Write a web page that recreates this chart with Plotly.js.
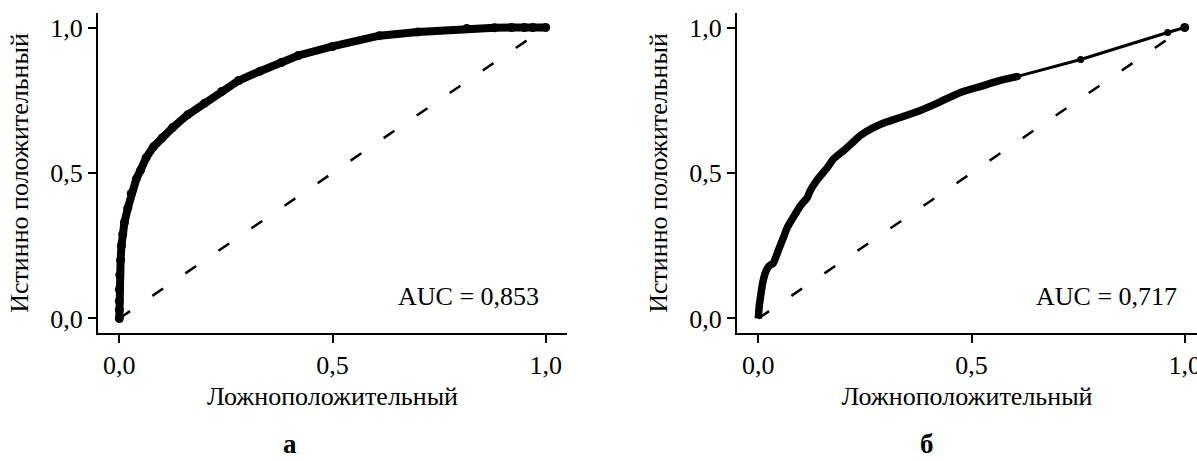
<!DOCTYPE html>
<html>
<head>
<meta charset="utf-8">
<script src="https://cdn.plot.ly/plotly-3.0.1.min.js"></script>
<style>html,body{margin:0;padding:0;background:#fff;}#chart{width:1197px;height:461px;}</style>
</head>
<body>
<div id="chart"></div>
<script>
// ---- data ----
const leftFPR = [0, 0, 0, 0, 0.001, 0.003, 0.005, 0.008, 0.012, 0.02, 0.028, 0.04, 0.05, 0.063, 0.08, 0.1, 0.125, 0.16, 0.2, 0.24, 0.28, 0.33, 0.38, 0.42, 0.5, 0.61, 0.7, 0.815, 0.88, 0.92, 0.95, 0.97, 1.0];
const leftTPR = [0, 0.03, 0.06, 0.1, 0.15, 0.2, 0.25, 0.29, 0.33, 0.38, 0.43, 0.48, 0.51, 0.553, 0.59, 0.62, 0.656, 0.7, 0.74, 0.78, 0.818, 0.85, 0.88, 0.904, 0.935, 0.972, 0.985, 0.997, 0.999, 1.0, 1.0, 1.0, 1.0];

const rightFPR = [0, 0.002, 0.005, 0.01, 0.016, 0.025, 0.035, 0.047, 0.058, 0.068, 0.087, 0.1, 0.115, 0.122, 0.14, 0.162, 0.176, 0.2, 0.216, 0.24, 0.27, 0.3, 0.333, 0.38, 0.42, 0.474, 0.52, 0.568, 0.59, 0.608, 0.756, 0.96, 1.0];
const rightTPR = [0, 0.04, 0.072, 0.12, 0.155, 0.18, 0.19, 0.234, 0.275, 0.313, 0.36, 0.39, 0.416, 0.44, 0.48, 0.519, 0.548, 0.577, 0.598, 0.63, 0.656, 0.675, 0.691, 0.715, 0.74, 0.777, 0.797, 0.818, 0.826, 0.832, 0.89, 0.983, 1.0];
const rightSparseFrom = 29; // index where the curve becomes sparse (thin segment with dots)

const diagonal = [0, 1];
const tickValues = [0, 0.5, 1];
const tickLabels = ['0,0', '0,5', '1,0'];
const aucLabels = ['AUC = 0,853', 'AUC = 0,717'];
const panelLabels = ['а', 'б'];
const xTitle = 'Ложноположительный';
const yTitle = 'Истинно положительный';

// ---- drawing ----
const FONT = "'Liberation Serif', 'Times New Roman', Times, serif";
const W = 1197, H = 461;

const traces = [
  {x: diagonal, y: diagonal, xaxis: 'x', yaxis: 'y', mode: 'lines',
   line: {color: '#000', width: 2.5, dash: '13px,27px'}, hoverinfo: 'skip'},
  {x: leftFPR, y: leftTPR, xaxis: 'x', yaxis: 'y', mode: 'lines+markers',
   line: {color: '#000', width: 8}, marker: {color: '#000', size: 9}},
  {x: diagonal, y: diagonal, xaxis: 'x2', yaxis: 'y2', mode: 'lines',
   line: {color: '#000', width: 2.5, dash: '13px,27px'}, hoverinfo: 'skip'},
  {x: rightFPR.slice(0, rightSparseFrom + 1), y: rightTPR.slice(0, rightSparseFrom + 1), xaxis: 'x2', yaxis: 'y2', mode: 'lines',
   line: {color: '#000', width: 7.5, shape: 'spline', smoothing: 0.6}},
  {x: rightFPR.slice(rightSparseFrom), y: rightTPR.slice(rightSparseFrom), xaxis: 'x2', yaxis: 'y2', mode: 'lines+markers',
   line: {color: '#000', width: 3}, marker: {color: '#000', size: 7}},
  {x: [rightFPR[rightFPR.length - 1]], y: [rightTPR[rightTPR.length - 1]], xaxis: 'x2', yaxis: 'y2', mode: 'markers',
   marker: {color: '#000', size: 9}}
];

function xAx(domain, range) {
  return {
    domain: domain, range: range, showgrid: false, zeroline: false,
    showline: true, linecolor: '#000', linewidth: 2,
    ticks: 'outside', ticklen: 8, tickwidth: 2, tickcolor: '#000',
    tickvals: tickValues, ticktext: tickLabels, ticklabeloverflow: 'allow',
    tickfont: {family: FONT, size: 26, color: '#000'},
    title: {text: xTitle, font: {family: FONT, size: 26, color: '#000'}, standoff: 8},
    automargin: false, fixedrange: true
  };
}
function yAx(domain, anchor) {
  return {
    domain: domain, range: [-0.05, 1.05], anchor: anchor, showgrid: false, zeroline: false,
    showline: true, linecolor: '#000', linewidth: 2,
    ticks: 'outside', ticklen: 8, tickwidth: 2, tickcolor: '#000',
    tickvals: tickValues, ticktext: tickLabels, ticklabeloverflow: 'allow',
    tickfont: {family: FONT, size: 26, color: '#000'},
    title: {text: yTitle, font: {family: FONT, size: 26, color: '#000'}, standoff: 14},
    automargin: false, fixedrange: true
  };
}

const yDom = [1 - 333 / H, 1 - 13 / H];
const layout = {
  width: W, height: H,
  margin: {l: 0, r: 0, t: 0, b: 0},
  paper_bgcolor: '#fff', plot_bgcolor: '#fff',
  showlegend: false,
  font: {family: FONT, color: '#000'},
  xaxis: Object.assign(xAx([98 / W, 567 / W], [-0.05, 1.05]), {anchor: 'y'}),
  yaxis: yAx(yDom, 'x'),
  xaxis2: Object.assign(xAx([737 / W, 1], [-0.05, 1.0288]), {anchor: 'y2'}),
  yaxis2: yAx(yDom, 'x2'),
  annotations: [
    {xref: 'x', yref: 'y', x: 0.988, y: 0.076, xanchor: 'right', yanchor: 'middle', text: aucLabels[0], showarrow: false,
     font: {family: FONT, size: 26, color: '#000'}},
    {xref: 'x2', yref: 'y2', x: 0.986, y: 0.076, xanchor: 'right', yanchor: 'middle', text: aucLabels[1], showarrow: false,
     font: {family: FONT, size: 26, color: '#000'}},
    {xref: 'paper', yref: 'paper', x: 290 / W, y: 0, xanchor: 'center', yanchor: 'bottom', text: '<b>' + panelLabels[0] + '</b>', showarrow: false,
     font: {family: FONT, size: 27, color: '#000'}},
    {xref: 'paper', yref: 'paper', x: 927 / W, y: 0, xanchor: 'center', yanchor: 'bottom', text: '<b>' + panelLabels[1] + '</b>', showarrow: false,
     font: {family: FONT, size: 27, color: '#000'}}
  ]
};

Plotly.newPlot('chart', traces, layout, {staticPlot: true, displayModeBar: false});
</script>
</body>
</html>
